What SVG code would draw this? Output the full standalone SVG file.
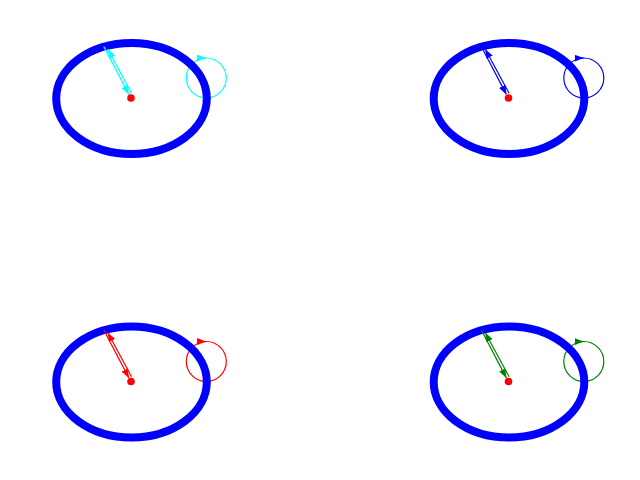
<svg xmlns="http://www.w3.org/2000/svg" width="640" height="480" viewBox="0 0 640 480">
<style>
.ring{fill:none;stroke:#0000ff;stroke-width:8}
.center{fill:#ff0000}
.edge{fill:none;stroke-width:1.2}
</style>
<defs>
<marker id="ah-c" markerUnits="userSpaceOnUse" viewBox="0 0 9 7" refX="9" refY="3.5" markerWidth="9" markerHeight="7" orient="auto"><path d="M0,0 L9,3.5 L0,7 z" fill="#00ffff"/></marker>
<marker id="ah-b" markerUnits="userSpaceOnUse" viewBox="0 0 9 7" refX="9" refY="3.5" markerWidth="9" markerHeight="7" orient="auto"><path d="M0,0 L9,3.5 L0,7 z" fill="#0000ff"/></marker>
<marker id="ah-r" markerUnits="userSpaceOnUse" viewBox="0 0 9 7" refX="9" refY="3.5" markerWidth="9" markerHeight="7" orient="auto"><path d="M0,0 L9,3.5 L0,7 z" fill="#ff0000"/></marker>
<marker id="ah-g" markerUnits="userSpaceOnUse" viewBox="0 0 9 7" refX="9" refY="3.5" markerWidth="9" markerHeight="7" orient="auto"><path d="M0,0 L9,3.5 L0,7 z" fill="#008000"/></marker>
</defs>
<rect width="640" height="480" fill="#ffffff"/>

<!-- top-left -->
<g id="panel-tl">
  <g id="tl-loop" stroke="#00ffff"><circle class="edge" cx="206.3" cy="78" r="20"/></g>
  <g id="tl-ring-nodes"><ellipse class="ring" cx="131.5" cy="98.5" rx="75.3" ry="55.5"/></g>
  <g id="tl-connectors" stroke="#00ffff">
    <path class="edge" d="M103.8,46.5 L128.9,94.4" marker-end="url(#ah-c)"/>
    <path class="edge" d="M131.6,93.2 L107.8,49.2" marker-end="url(#ah-c)"/>
    <path class="edge" d="M199.5,58.1 L206,58.1" marker-end="url(#ah-c)"/>
  </g>
  <g id="tl-center"><circle class="center" cx="131" cy="98" r="3.8"/></g>
</g>

<!-- top-right -->
<g id="panel-tr" transform="translate(377.5,0)">
  <g id="tr-loop" stroke="#0000ff"><circle class="edge" cx="206.3" cy="78" r="20"/></g>
  <g id="tr-ring-nodes"><ellipse class="ring" cx="131.5" cy="98.5" rx="75.3" ry="55.5"/></g>
  <g id="tr-connectors" stroke="#0000ff">
    <path class="edge" d="M103.8,46.5 L128.9,94.4" marker-end="url(#ah-b)"/>
    <path class="edge" d="M131.6,93.2 L107.8,49.2" marker-end="url(#ah-b)"/>
    <path class="edge" d="M199.5,58.1 L206,58.1" marker-end="url(#ah-b)"/>
  </g>
  <g id="tr-center"><circle class="center" cx="131" cy="98" r="3.8"/></g>
</g>

<!-- bottom-left -->
<g id="panel-bl" transform="translate(0,283.5)">
  <g id="bl-loop" stroke="#ff0000"><circle class="edge" cx="206.3" cy="78" r="20"/></g>
  <g id="bl-ring-nodes"><ellipse class="ring" cx="131.5" cy="98.5" rx="75.3" ry="55.5"/></g>
  <g id="bl-connectors" stroke="#ff0000">
    <path class="edge" d="M103.8,46.5 L128.9,94.4" marker-end="url(#ah-r)"/>
    <path class="edge" d="M131.6,93.2 L107.8,49.2" marker-end="url(#ah-r)"/>
    <path class="edge" d="M199.5,58.1 L206,58.1" marker-end="url(#ah-r)"/>
  </g>
  <g id="bl-center"><circle class="center" cx="131" cy="98" r="3.8"/></g>
</g>

<!-- bottom-right -->
<g id="panel-br" transform="translate(377.5,283.5)">
  <g id="br-loop" stroke="#008000"><circle class="edge" cx="206.3" cy="78" r="20"/></g>
  <g id="br-ring-nodes"><ellipse class="ring" cx="131.5" cy="98.5" rx="75.3" ry="55.5"/></g>
  <g id="br-connectors" stroke="#008000">
    <path class="edge" d="M103.8,46.5 L128.9,94.4" marker-end="url(#ah-g)"/>
    <path class="edge" d="M131.6,93.2 L107.8,49.2" marker-end="url(#ah-g)"/>
    <path class="edge" d="M199.5,58.1 L206,58.1" marker-end="url(#ah-g)"/>
  </g>
  <g id="br-center"><circle class="center" cx="131" cy="98" r="3.8"/></g>
</g>
</svg>
